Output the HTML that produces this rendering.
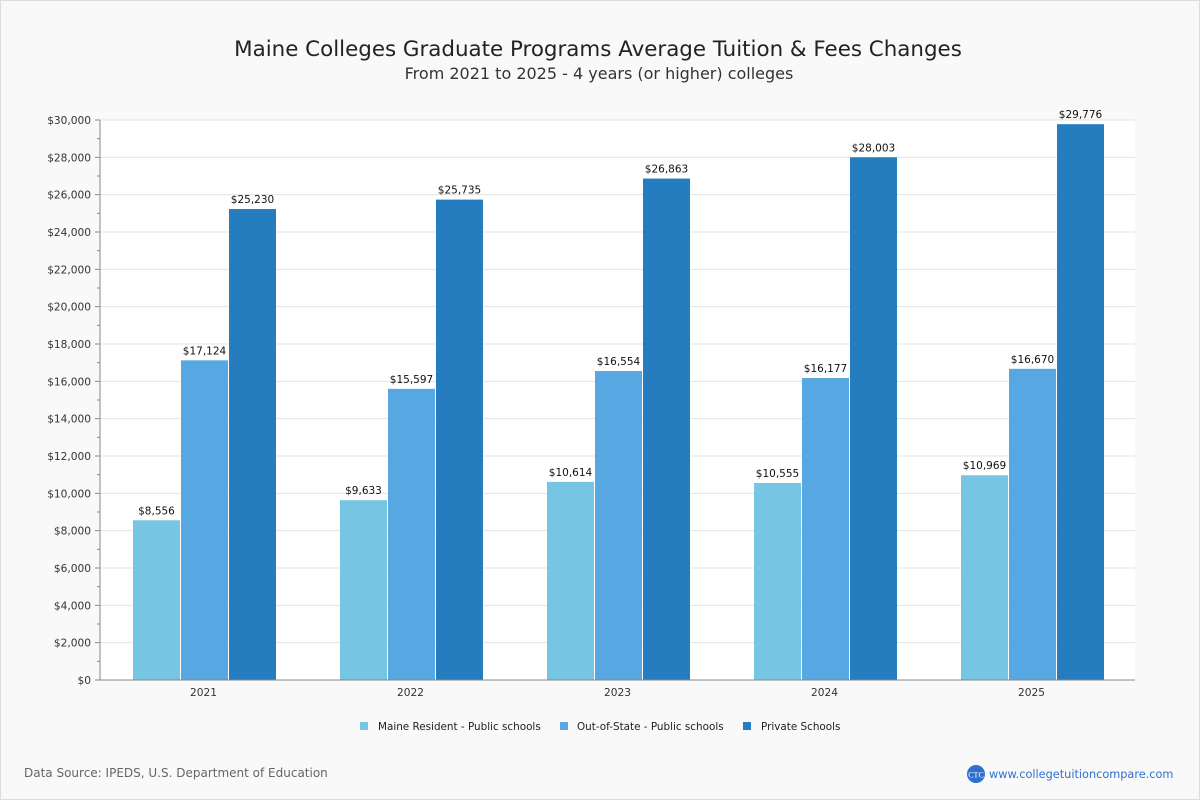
<!DOCTYPE html>
<html><head><meta charset="utf-8"><style>
body{margin:0;background:#fff}
svg{display:block;font-family:"DejaVu Sans","Liberation Sans",sans-serif}
</style></head><body>
<svg id="chart" width="1200" height="800">
<rect x="0.5" y="0.5" width="1199" height="799" fill="#f9f9f9" stroke="#ddd"/>
<text x="598" y="56" font-size="21.4" fill="#222" text-anchor="middle">Maine Colleges Graduate Programs Average Tuition &amp; Fees Changes</text>
<text x="599" y="79" font-size="16" fill="#333" text-anchor="middle">From 2021 to 2025 - 4 years (or higher) colleges</text>
<rect x="100" y="120" width="1035" height="560" fill="#fff"/>
<g id="grid"></g><g id="bars"></g><g id="axes"></g>
<g font-size="10.4" fill="#222">
<rect x="360" y="722" width="8" height="8" fill="#76c5e2"/>
<text x="378" y="730">Maine Resident - Public schools</text>
<rect x="560" y="722" width="8" height="8" fill="#57a7e2"/>
<text x="577" y="730">Out-of-State - Public schools</text>
<rect x="743" y="722" width="8" height="8" fill="#257dbf"/>
<text x="761" y="730">Private Schools</text>
</g>
<text x="24" y="777" font-size="12" fill="#666">Data Source: IPEDS, U.S. Department of Education</text>
<circle cx="976" cy="774" r="9" fill="#2f6fd0"/>
<text x="976" y="777.5" font-size="8" fill="#fff" text-anchor="middle" font-family="Liberation Serif,serif">CTC</text>
<text x="989" y="778" font-size="11.3" fill="#2f6fd0">www.collegetuitioncompare.com</text>
</svg>
<script>
const categories=["2021","2022","2023","2024","2025"];
const resident=[8556,9633,10614,10555,10969];
const outOfState=[17124,15597,16554,16177,16670];
const privateSchools=[25230,25735,26863,28003,29776];
const yTicks=[0,2000,4000,6000,8000,10000,12000,14000,16000,18000,20000,22000,24000,26000,28000,30000];
const NS="http://www.w3.org/2000/svg";
const X0=100,X1=1135,Y0=680,Y1=120,YMAX=30000;
const y=v=>Y0-(v/YMAX)*(Y0-Y1);
const gw=(X1-X0)/categories.length;
const xc=i=>X0+gw*(i+0.5);
function mk(tag,attrs,parent){const e=document.createElementNS(NS,tag);for(const k in attrs)e.setAttribute(k,attrs[k]);parent.appendChild(e);return e;}
const grid=document.getElementById('grid'),bars=document.getElementById('bars'),axes=document.getElementById('axes');
const fmt=v=>'$'+v.toLocaleString('en-US');
yTicks.forEach(t=>{
 const l=mk('line',{x1:X0,x2:X1,y1:y(t),y2:y(t),stroke:'#e3e3e3'},grid);
 
 
 const tk=mk('line',{x1:X0-5,x2:X0,y1:y(t),y2:y(t),stroke:'#888'},axes);
 
 
 if(t<yTicks[yTicks.length-1]){
  const m=mk('line',{x1:X0-3,x2:X0,y1:y(t+1000),y2:y(t+1000),stroke:'#888'},axes);
  
  
 }
 const tx=mk('text',{x:X0-9,y:y(t)+4,'font-size':10.6,fill:'#333','text-anchor':'end'},axes);
 tx.textContent=fmt(t);
 
 
});
const ax=mk('line',{x1:X0,x2:X0,y1:Y1,y2:Y0,stroke:'#888'},axes);


const bx=mk('line',{x1:X0,x2:X1,y1:Y0,y2:Y0,stroke:'#888'},axes);


const series=[[resident,'#76c5e2','resident'],[outOfState,'#57a7e2','out-of-state'],[privateSchools,'#257dbf','private']];
const bw=47;
categories.forEach((c,i)=>{
 series.forEach((s,j)=>{
  const v=s[0][i];const x=xc(i)-70.5+j*48;
  const r=mk('rect',{x:x,y:y(v),width:bw,height:Y0-y(v),fill:s[1]},bars);
  
  
  const t=mk('text',{x:x+bw/2,y:y(v)-6,'font-size':10.5,fill:'#111','text-anchor':'middle'},bars);
  t.textContent=fmt(v);
  
  
 });
 const tx=mk('text',{x:xc(i),y:Y0+16,'font-size':10.6,fill:'#333','text-anchor':'middle'},axes);
 tx.textContent=c;
 
 
});
</script>
</body></html>
